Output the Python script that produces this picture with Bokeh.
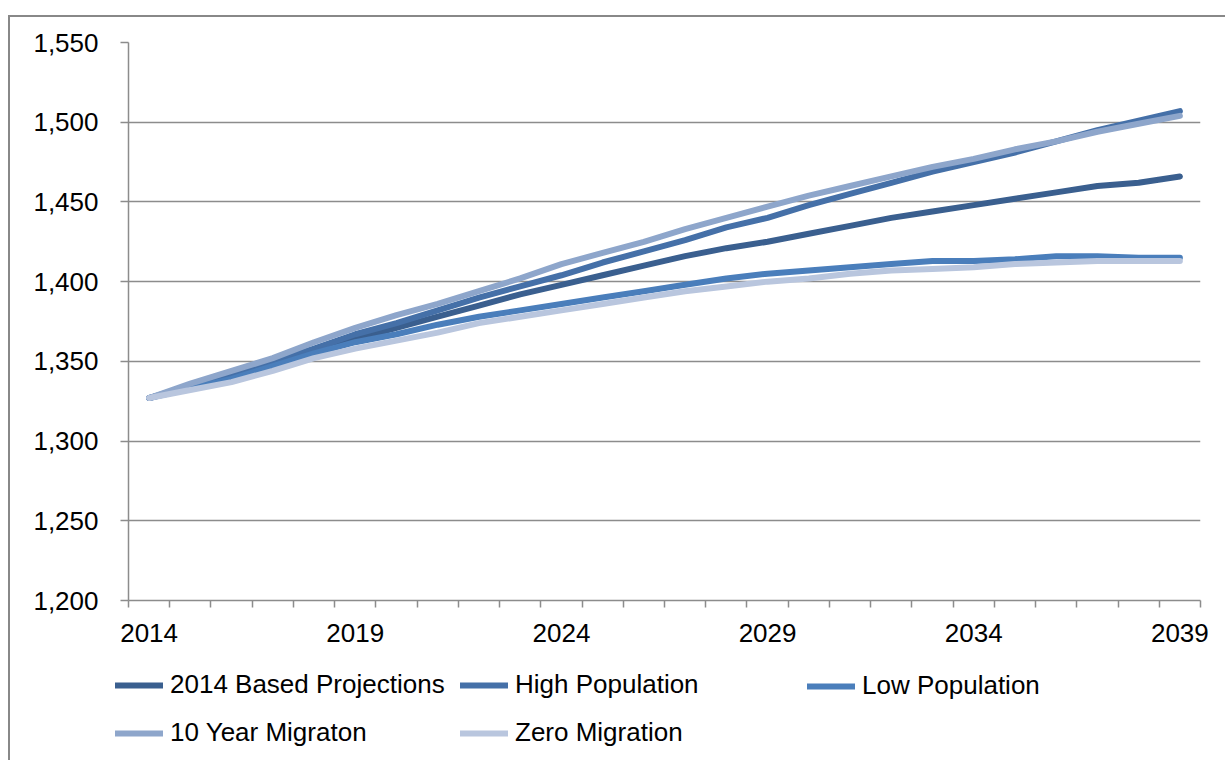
from bokeh.plotting import figure
from bokeh.models import (Range1d, FixedTicker, NumeralTickFormatter, Legend, LegendItem,
                          InlineStyleSheet)
from bokeh.embed import file_html
from bokeh.resources import INLINE

years = list(range(2014, 2040))
based_2014 = [1327, 1334, 1341, 1348, 1356, 1364, 1371, 1378, 1385, 1392, 1398, 1404, 1410,
              1416, 1421, 1425, 1430, 1435, 1440, 1444, 1448, 1452, 1456, 1460, 1462, 1466]
high_pop = [1327, 1335, 1342, 1350, 1358, 1367, 1374, 1382, 1390, 1397, 1404, 1412, 1419,
            1426, 1434, 1440, 1448, 1455, 1462, 1469, 1475, 1481, 1488, 1495, 1501, 1507]
low_pop = [1327, 1333, 1339, 1347, 1355, 1362, 1367, 1373, 1378, 1382, 1386, 1390, 1394,
           1398, 1402, 1405, 1407, 1409, 1411, 1413, 1413, 1414, 1416, 1416, 1415, 1415]
ten_year = [1327, 1336, 1344, 1352, 1362, 1371, 1379, 1386, 1394, 1402, 1411, 1418, 1425,
            1433, 1440, 1447, 1454, 1460, 1466, 1472, 1477, 1483, 1488, 1494, 1499, 1504]
zero_mig = [1327, 1332, 1337, 1344, 1352, 1358, 1363, 1368, 1374, 1378, 1382, 1386, 1390,
            1394, 1397, 1400, 1402, 1405, 1407, 1408, 1409, 1411, 1412, 1413, 1413, 1413]

series_names = ["2014 Based Projections", "High Population", "Low Population",
                "10 Year Migraton", "Zero Migration"]
series_values = [based_2014, high_pop, low_pop, ten_year, zero_mig]
series_colors = ["#3A5F8F", "#4570A8", "#4A7EBB", "#8EA6CB", "#B9C6DE"]

y_ticks = [1200, 1250, 1300, 1350, 1400, 1450, 1500, 1550]
x_label_years = [2014, 2019, 2024, 2029, 2034, 2039]

FONT = "Liberation Sans"
FS = "26px"
GRID = "#8C8C8C"
LW = 6

css_top = InlineStyleSheet(css="""
:host { position: relative; }
:host::after { content: ""; position: absolute; left: 8px; top: 15px; right: -4px; bottom: -4px;
  border-left: 2px solid #888888; border-top: 2px solid #888888; pointer-events: none; }
""")
css_bottom = InlineStyleSheet(css="""
:host { position: relative; }
:host::after { content: ""; position: absolute; left: 8px; top: 0px; right: -4px; bottom: -4px;
  border-left: 2px solid #888888; pointer-events: none; }
""")

p = figure(width=1225, height=660, output_backend="svg", toolbar_location=None,
           x_range=Range1d(years[0] - 0.5, years[-1] + 0.5),
           y_range=Range1d(y_ticks[0], y_ticks[-1]),
           min_border_left=128, min_border_right=25, min_border_top=42, min_border_bottom=60,
           stylesheets=[css_top])
p.outline_line_color = None
p.background_fill_color = "white"
p.border_fill_color = "white"

# x axis
p.xaxis.ticker = FixedTicker(ticks=x_label_years,
                             minor_ticks=[y - 0.5 for y in years] + [years[-1] + 0.5])
p.xaxis.major_tick_out = 0
p.xaxis.major_tick_in = 0
p.xaxis.minor_tick_out = 7
p.xaxis.minor_tick_in = 0
p.xaxis.minor_tick_line_color = GRID
p.xaxis.minor_tick_line_width = 1.5
p.xaxis.axis_line_color = GRID
p.xaxis.axis_line_width = 1.5
p.xaxis.major_label_standoff = 16
p.xaxis.major_label_text_font = FONT
p.xaxis.major_label_text_font_size = FS
p.xaxis.major_label_text_color = "black"

# y axis
p.yaxis.ticker = FixedTicker(ticks=y_ticks)
p.yaxis.formatter = NumeralTickFormatter(format="0,0")
p.yaxis.major_tick_out = 8
p.yaxis.major_tick_in = 0
p.yaxis.minor_tick_line_color = None
p.yaxis.major_tick_line_color = GRID
p.yaxis.major_tick_line_width = 1.5
p.yaxis.axis_line_color = GRID
p.yaxis.axis_line_width = 1.5
p.yaxis.major_label_standoff = 22
p.yaxis.major_label_text_font = FONT
p.yaxis.major_label_text_font_size = FS
p.yaxis.major_label_text_color = "black"

p.xgrid.grid_line_color = None
p.ygrid.grid_line_color = GRID
p.ygrid.grid_line_width = 1.5

for name, vals, col in zip(series_names, series_values, series_colors):
    p.line(years, vals, line_color=col, line_width=LW, line_cap="round", line_join="round")

# legend strip below the chart
q = figure(width=1225, height=100, output_backend="svg", toolbar_location=None,
           x_range=Range1d(0, 1), y_range=Range1d(0, 1),
           x_axis_type=None, y_axis_type=None, min_border=0,
           stylesheets=[css_bottom])
q.outline_line_color = None
q.xgrid.grid_line_color = None
q.ygrid.grid_line_color = None
q.background_fill_color = "white"
q.border_fill_color = "white"

# legend-only proxies, kept outside the visible range of the strip
legend_renderers = [q.line([-3, -2], [-3, -2], line_color=col, line_width=LW, line_cap="round")
                    for col in series_colors]

legend_groups = [([0, 3], 115), ([1, 4], 460), ([2], 807)]
for idxs, xoff in legend_groups:
    items = [LegendItem(label=series_names[i], renderers=[legend_renderers[i]]) for i in idxs]
    yoff = 12 if len(items) == 2 else 59
    leg = Legend(items=items, location=(xoff, yoff),
                 orientation="vertical", padding=0, margin=0, spacing=17,
                 glyph_width=48, glyph_height=30, label_height=30, label_standoff=7,
                 label_text_font=FONT, label_text_font_size=FS, label_text_color="black",
                 border_line_color=None, background_fill_alpha=0)
    q.add_layout(leg, "center")

open("out.html", "w").write(file_html([p, q], INLINE))
